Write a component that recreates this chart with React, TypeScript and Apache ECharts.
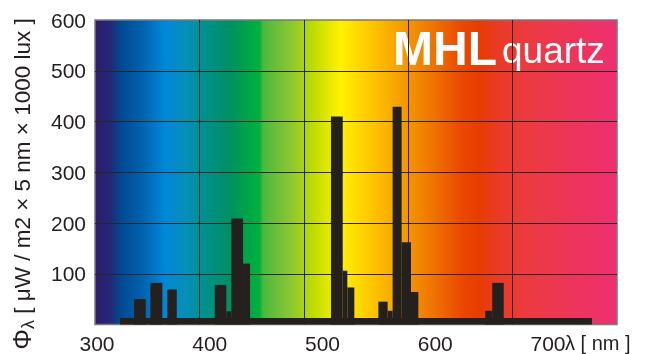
import React, { useEffect, useRef } from "react";
import * as echarts from "echarts";

// Spectrum bins: start / end wavelength (nm) and irradiance value
const binStart = [324, 337.4, 353, 369.3, 414.7, 425.8, 430.6, 441.8, 526, 537.3, 541.7, 571.4, 580.3, 585.1, 593.7, 602.7, 673.8, 680.5];
const binEnd = [776, 348.6, 364.5, 378.3, 425.8, 430.6, 441.8, 448.5, 537.3, 541.7, 548.4, 580.3, 585.1, 593.7, 602.7, 609.7, 680.5, 691.5];
const irradiance = [13, 50, 82, 69, 78, 26, 209, 120, 410, 106, 73, 45, 27, 429, 162, 64, 27, 82];

const xTickLabels = [300, 400, 500, 600, 700];
const yTickValues = [100, 200, 300, 400, 500, 600];

const FONT = "'Liberation Sans', Arial, Helvetica, sans-serif";
const TEXT = "#231f20";

export default function App() {
  const ref = useRef<HTMLDivElement>(null);

  useEffect(() => {
    if (!ref.current) return;
    const chart = echarts.init(ref.current, null, { renderer: "svg" });

    const data = binStart.map((s, i) => [s, binEnd[i], irradiance[i]]);

    const gradient = new echarts.graphic.LinearGradient(0, 0, 1, 0, [
      { offset: 0, color: "#301a6c" },
      { offset: 0.03, color: "#242878" },
      { offset: 0.05, color: "#004a90" },
      { offset: 0.09, color: "#0062ae" },
      { offset: 0.135, color: "#0088d8" },
      { offset: 0.175, color: "#068fb6" },
      { offset: 0.21, color: "#00908c" },
      { offset: 0.26, color: "#009060" },
      { offset: 0.3, color: "#00aa42" },
      { offset: 0.315, color: "#00b03e" },
      { offset: 0.322, color: "#4cb83c" },
      { offset: 0.375, color: "#8ac832" },
      { offset: 0.42, color: "#c2dc00" },
      { offset: 0.47, color: "#fff200" },
      { offset: 0.527, color: "#ffc800" },
      { offset: 0.584, color: "#f5a000" },
      { offset: 0.642, color: "#f07800" },
      { offset: 0.7, color: "#ea4a00" },
      { offset: 0.734, color: "#e83c00" },
      { offset: 0.776, color: "#ea3a28" },
      { offset: 0.833, color: "#ec3a42" },
      { offset: 1, color: "#ef2f72" },
    ]);

    chart.setOption({
      animation: false,
      grid: {
        left: 95,
        top: 20,
        width: 522,
        height: 306,
        show: true,
        backgroundColor: gradient,
        borderColor: "#7a7a7a",
        borderWidth: 1.5,
        containLabel: false,
      },
      xAxis: [
        {
          type: "value",
          min: 300,
          max: 800,
          interval: 100,
          position: "bottom",
          axisLine: { show: false },
          axisTick: { show: false },
          axisLabel: { show: false },
          splitLine: {
            show: true,
            showMinLine: false,
            showMaxLine: false,
            lineStyle: { color: "#2a2626", width: 1 },
          },
        },
        {
          type: "value",
          min: 298.23,
          max: 761.2,
          position: "bottom",
          axisLine: { show: false },
          axisTick: { show: false },
          splitLine: { show: false },
          axisLabel: {
            customValues: xTickLabels,
            margin: 10,
            fontSize: 21,
            lineHeight: 18,
            fontFamily: FONT,
            color: TEXT,
          },
        },
      ],
      yAxis: {
        type: "value",
        min: 0,
        max: 600,
        interval: 100,
        axisLine: { show: false },
        axisTick: { show: false },
        axisLabel: {
          customValues: yTickValues,
          margin: 9,
          fontSize: 21,
          fontFamily: FONT,
          color: TEXT,
        },
        splitLine: {
          show: true,
          showMinLine: false,
          showMaxLine: false,
          lineStyle: { color: "#2a2626", width: 1 },
        },
      },
      series: [
        {
          type: "custom",
          xAxisIndex: 0,
          yAxisIndex: 0,
          encode: { x: [0, 1], y: 2 },
          data,
          renderItem: (params: any, api: any) => {
            const p0 = api.coord([api.value(0), api.value(2)]);
            const p1 = api.coord([api.value(1), 0]);
            return {
              type: "rect",
              shape: { x: p0[0], y: p0[1], width: p1[0] - p0[0], height: p1[1] - p0[1] },
              style: { fill: "#24201d" },
            };
          },
        },
      ],
      graphic: [
        {
          type: "text",
          x: 393,
          y: 48.5,
          style: {
            text: "MHL",
            fontSize: 48,
            fontWeight: "bold",
            fontFamily: FONT,
            fill: "#ffffff",
            align: "left",
            verticalAlign: "middle",
          },
        },
        {
          type: "text",
          x: 502,
          y: 50,
          style: {
            text: "quartz",
            fontSize: 37,
            fontFamily: FONT,
            fill: "#ffffff",
            align: "left",
            verticalAlign: "middle",
          },
        },
        {
          type: "text",
          x: 565,
          y: 343,
          style: {
            text: "λ [ nm ]",
            fontSize: 20,
            lineHeight: 18,
            fontFamily: FONT,
            fill: TEXT,
            align: "left",
            verticalAlign: "middle",
          },
        },
        {
          type: "text",
          x: 22,
          y: 184,
          rotation: Math.PI / 2,
          style: {
            text: "{p|Φ}{s|λ}{n| [ μW / m2 × 5 nm × 1000 lux ]}",
            align: "center",
            verticalAlign: "middle",
            fill: TEXT,
            fontFamily: FONT,
            rich: {
              p: { fontSize: 26, fontFamily: FONT, fill: TEXT, lineHeight: 30, verticalAlign: "middle" },
              s: { fontSize: 18, fontFamily: FONT, fill: TEXT, lineHeight: 30, verticalAlign: "bottom" },
              n: { fontSize: 22.5, fontFamily: FONT, fill: TEXT, lineHeight: 30, verticalAlign: "middle" },
            },
          },
        },
      ],
    });

    return () => chart.dispose();
  }, []);

  return (
    <div
      ref={ref}
      style={{ position: "fixed", left: 0, top: 0, width: 648, height: 354 }}
    />
  );
}
